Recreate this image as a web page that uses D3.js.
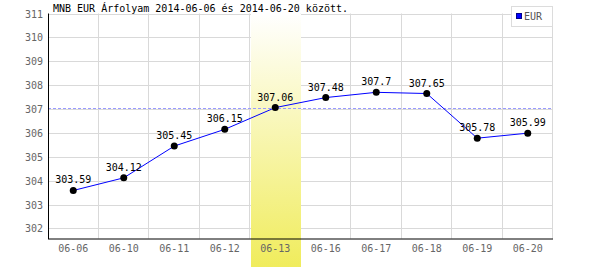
<!DOCTYPE html>
<html>
<head>
<meta charset="utf-8">
<script src="https://cdn.jsdelivr.net/npm/d3@7"></script>
<style>
  body { margin: 0; background: #fff; }
  text { font-family: "DejaVu Sans Mono", monospace; font-size: 10px; }
</style>
</head>
<body>
<div id="chart"></div>
<script>
// Data
const days = ['06-06', '06-10', '06-11', '06-12', '06-13', '06-16', '06-17', '06-18', '06-19', '06-20'];
const rates = [303.59, 304.12, 305.45, 306.15, 307.06, 307.48, 307.7, 307.65, 305.78, 305.99];
const y_ticks = [302, 303, 304, 305, 306, 307, 308, 309, 310, 311];
const highlight_day = '06-13';
const ref_rate = 307.06;
const title = 'MNB EUR Árfolyam 2014-06-06 és 2014-06-20 között.';

const chart_width = 600;
const chart_height = 270;
const plot_left = 48, plot_right = 553, plot_top = 13.5, plot_bottom = 238.5;

// Scales
const x_scale = d3.scaleBand()
    .domain(days)
    .range([plot_left, plot_right]);

const y_scale = d3.scaleLinear()
    .domain([301.58, 311])
    .range([plot_bottom, plot_top]);

const cx = d => x_scale(d) + x_scale.bandwidth() / 2;

// SVG
const svg = d3.select('#chart')
    .append('svg')
    .attr('width', chart_width)
    .attr('height', chart_height);

// Gradient for highlighted day
const grad = svg.append('defs').append('linearGradient')
    .attr('id', 'hl')
    .attr('x1', 0).attr('y1', 0).attr('x2', 0).attr('y2', 1);
grad.append('stop').attr('offset', '0%').attr('stop-color', '#ffffff');
grad.append('stop').attr('offset', '100%').attr('stop-color', '#f0ec5c');

// Grid
svg.append('g')
    .selectAll('line')
    .data(y_ticks)
    .enter()
    .append('line')
    .attr('x1', plot_left)
    .attr('x2', plot_right)
    .attr('y1', d => Math.round(y_scale(d)) + 0.5)
    .attr('y2', d => Math.round(y_scale(d)) + 0.5)
    .attr('stroke', '#d9d9d9');

svg.append('g')
    .selectAll('line')
    .data(days.slice(1).map(d => x_scale(d)).concat([plot_right]))
    .enter()
    .append('line')
    .attr('x1', d => Math.round(d) - 0.5)
    .attr('x2', d => Math.round(d) - 0.5)
    .attr('y1', plot_top)
    .attr('y2', plot_bottom)
    .attr('stroke', '#d9d9d9');

// Highlight band
svg.append('rect')
    .attr('x', Math.round(x_scale(highlight_day)) + 1)
    .attr('y', plot_top)
    .attr('width', Math.round(x_scale.bandwidth()) - 1)
    .attr('height', 267 - plot_top)
    .attr('fill', 'url(#hl)');

// Reference line
svg.append('line')
    .attr('x1', plot_left)
    .attr('x2', plot_right)
    .attr('y1', Math.round(y_scale(ref_rate)) + 0.5)
    .attr('y2', Math.round(y_scale(ref_rate)) + 0.5)
    .attr('stroke', '#9a9aff')
    .attr('stroke-dasharray', '3,2');

// Axes
svg.append('line')
    .attr('x1', plot_left + 0.5).attr('x2', plot_left + 0.5)
    .attr('y1', plot_top).attr('y2', plot_bottom + 0.5)
    .attr('stroke', '#000');
svg.append('line')
    .attr('x1', plot_left).attr('x2', plot_right)
    .attr('y1', plot_bottom + 0.5).attr('y2', plot_bottom + 0.5)
    .attr('stroke', '#000');

// Tick labels
svg.append('g')
    .selectAll('text')
    .data(y_ticks)
    .enter()
    .append('text')
    .attr('x', 43)
    .attr('y', d => y_scale(d) + 4)
    .attr('text-anchor', 'end')
    .attr('fill', '#666')
    .text(d => d);

svg.append('g')
    .selectAll('text')
    .data(days)
    .enter()
    .append('text')
    .attr('x', d => cx(d))
    .attr('y', 252)
    .attr('text-anchor', 'middle')
    .attr('fill', '#666')
    .text(d => d);

// Line
const line = d3.line()
    .x((d, i) => cx(days[i]))
    .y(d => y_scale(d));

svg.append('path')
    .datum(rates)
    .attr('d', line)
    .attr('fill', 'none')
    .attr('stroke', '#0000ff')
    .attr('stroke-width', 1);

// Points
svg.append('g')
    .selectAll('circle')
    .data(rates)
    .enter()
    .append('circle')
    .attr('cx', (d, i) => cx(days[i]))
    .attr('cy', d => y_scale(d))
    .attr('r', 3.5)
    .attr('fill', '#000');

// Value labels
svg.append('g')
    .selectAll('text')
    .data(rates)
    .enter()
    .append('text')
    .attr('x', (d, i) => cx(days[i]))
    .attr('y', d => y_scale(d) - 7)
    .attr('text-anchor', 'middle')
    .attr('fill', '#000')
    .text(d => d);

// Title
svg.append('text')
    .attr('x', 53)
    .attr('y', 12)
    .attr('fill', '#000')
    .text(title);

// Legend
svg.append('rect')
    .attr('x', 511.5).attr('y', 6.5)
    .attr('width', 41).attr('height', 20)
    .attr('fill', '#fff')
    .attr('stroke', '#dcdcdc');
svg.append('rect')
    .attr('x', 516.5).attr('y', 13.5)
    .attr('width', 5).attr('height', 5)
    .attr('fill', '#0000ff')
    .attr('stroke', '#00008a');
svg.append('text')
    .attr('x', 524)
    .attr('y', 20)
    .attr('fill', '#555')
    .text('EUR');
</script>
</body>
</html>
